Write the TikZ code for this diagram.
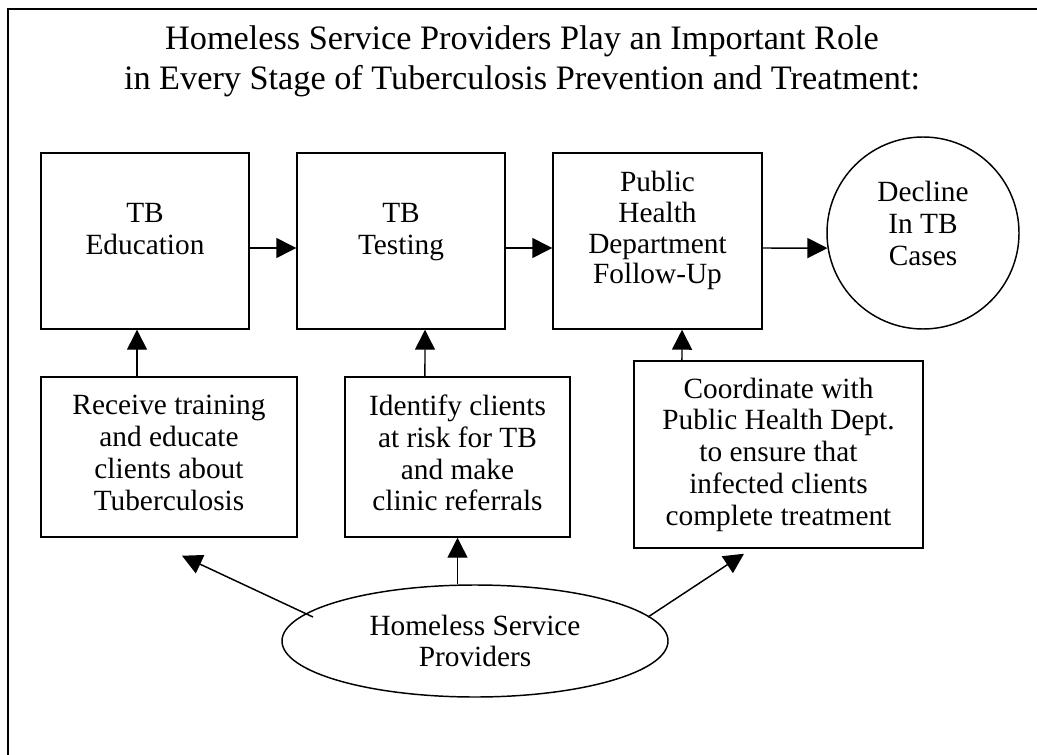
\documentclass[tikz,border=0pt]{standalone}
\usepackage{fontspec}
\setmainfont{Liberation Serif}
\usetikzlibrary{arrows.meta,shapes.geometric,calc}
\begin{document}
\begin{tikzpicture}[x=0.75pt,y=-0.75pt,
  frame/.style={line width=1.5pt},
  box/.style={draw,line width=1.1pt,inner sep=0pt,minimum width=156pt,minimum height=132pt},
  lowbox/.style={draw,line width=1.1pt,inner sep=0pt,align=center,font=\fontsize{22}{23.8}\selectfont},
  txt/.style={align=center,font=\fontsize{22}{23.8}\selectfont,inner sep=0pt},
  toptxt/.style={txt,anchor=north},
  arr/.style={line width=1.1pt,-{Triangle[length=15pt,width=15pt]}},
]
\useasboundingbox (0,0) rectangle (1037,755);
\draw[frame] (8,760) -- (8,9) -- (1040,9);

\node[align=center,font=\fontsize{25.7}{30}\selectfont,inner sep=0pt] (title) at (522,61)
  {Homeless Service Providers Play an Important Role\\in Every Stage of Tuberculosis Prevention and Treatment:};

% top row
\node[box] (edu) at (145,241) {};
\node[box] (test) at (401,241) {};
\node[box,minimum width=156.75pt] (phd) at (657.5,241) {};
\node[draw,circle,line width=1.1pt,inner sep=0pt,minimum size=144pt] (dec) at (923,233) {};

\node[toptxt] (eduT) at (145,200.5) {\strut TB\\Education};
\node[toptxt] (testT) at (401,200.5) {\strut TB\\Testing};
\node[toptxt,font=\fontsize{22}{23}\selectfont] (phdT) at (657.5,170) {\strut Public\\Health\\Department\\Follow-Up};
\node[toptxt] (decT) at (923,179.5) {\strut Decline\\In TB\\Cases};

% lower row
\node[lowbox,minimum width=192pt,minimum height=120pt] (recv) at (169,457) {};
\node[txt] (recvT) at (169,453) {Receive training\\and educate\\clients about\\Tuberculosis};
\node[lowbox,minimum width=168.75pt,minimum height=120pt] (ident) at (457.5,457) {};
\node[txt] (identT) at (457.5,453) {Identify clients\\at risk for TB\\and make\\clinic referrals};
\node[lowbox,minimum width=216.75pt,minimum height=140.25pt] (coord) at (778.5,454.5)
  {Coordinate with\\Public Health Dept.\\to ensure that\\infected clients\\complete treatment};

\node[draw,ellipse,line width=1.1pt,inner sep=0pt,minimum width=289.5pt,minimum height=84pt,
  align=center,font=\fontsize{22}{23.8}\selectfont] (hsp) at (475,641)
  {Homeless Service\\Providers};

% connectors
\draw[arr] ([yshift=-5.25pt]edu.east) -- ([yshift=-5.25pt]test.west);
\draw[arr] ([yshift=-5.25pt]test.east) -- ([yshift=-5.25pt]phd.west);
\draw[arr] ([yshift=-5.25pt]phd.east) -- (dec.189);

\draw[arr] ([xshift=-24pt]recv.north) -- ([xshift=-6pt]edu.south);
\draw[arr] ([xshift=-24.4pt]ident.north) -- ([xshift=18pt]test.south);
\draw[arr] ([xshift=-72.4pt]coord.north) -- ([xshift=18.4pt]phd.south);

\draw[arr] ($(hsp.center)+(-162,-24)$) -- ($(recv.south)+(13,18)$);
\draw[arr] (ident.south |- hsp.north) -- (ident.south);
\draw[arr] ($(hsp.center)+(173,-24)$) -- ($(coord.south)+(-34.5,5)$);
\end{tikzpicture}
\end{document}
